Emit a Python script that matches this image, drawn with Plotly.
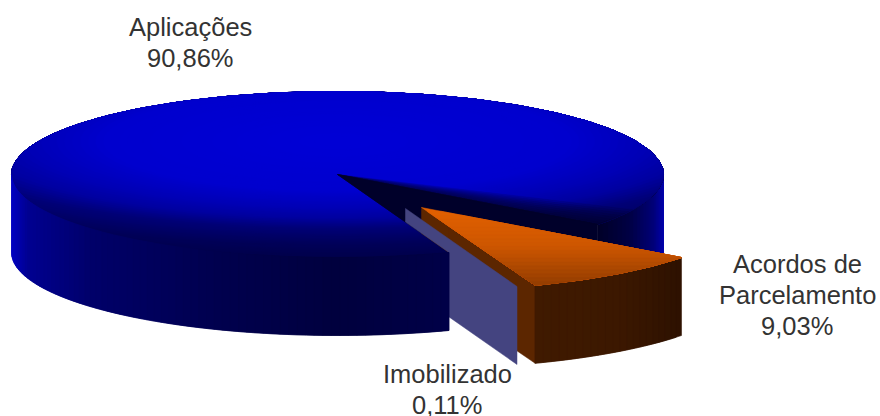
import math
import plotly.graph_objects as go

# --- data ---
label_lines = [["Aplicações"], ["Acordos de", "Parcelamento"], ["Imobilizado"]]
values = [90.86, 9.03, 0.11]

# --- pie geometry (screen pixels on hidden axes) ---
CX, CY, RX, RY, DEPTH = 337.5, 174.5, 326, 83, 78
BLUE_END = 70.0
EXPLODE_ORANGE = (84, 33)
EXPLODE_GREY = (68, 34)
FONT = "Liberation Sans"

total = sum(values)
span = [v / total * 360 for v in values]
blue_start = BLUE_END + span[0] - 360
orange_end = blue_start + span[1]
grey_end = orange_end + span[2]

fig = go.Figure()


def poly(pts, color):
    fig.add_trace(go.Scatter(
        x=[p[0] for p in pts] + [pts[0][0]], y=[p[1] for p in pts] + [pts[0][1]],
        mode="lines", fill="toself", fillcolor=color,
        line=dict(color=color, width=0.5), hoverinfo="skip", showlegend=False))


def rim(t, off=(0, 0)):
    a = math.radians(t)
    return (CX + off[0] + RX * math.cos(a), CY + off[1] + RY * math.sin(a))


def down(p):
    return (p[0], p[1] + DEPTH)


def lerp_color(stops, v):
    if v <= stops[0][0]:
        s = stops[0][1]
    elif v >= stops[-1][0]:
        s = stops[-1][1]
    else:
        for (a, ca), (b, cb) in zip(stops, stops[1:]):
            if a <= v <= b:
                f = (v - a) / (b - a)
                s = tuple(ca[i] + (cb[i] - ca[i]) * f for i in range(3))
                break
    return "rgb(%d,%d,%d)" % tuple(round(c) for c in s)


def clip(pts, keep):
    """Half-plane clip: keep(p) returns a signed value, >=0 is inside."""
    out = []
    for i, p in enumerate(pts):
        q = pts[(i + 1) % len(pts)]
        kp, kq = keep(p), keep(q)
        if kp >= 0:
            out.append(p)
        if (kp >= 0) != (kq >= 0):
            f = kp / (kp - kq)
            out.append((p[0] + (q[0] - p[0]) * f, p[1] + (q[1] - p[1]) * f))
    return out


def wall(t0, t1, off, stops, step=1.5):
    """Side wall as overlapping strips, painted from t0 towards t1."""
    n = max(1, int(abs(t1 - t0) / step))
    d = (t1 - t0) / n
    for i in range(n):
        a = t0 + d * i
        b = t0 + d * min(i + 2, n)
        u = math.cos(math.radians(a + d / 2))
        arc = [rim(a + (b - a) * k / 4, off) for k in range(5)]
        poly(arc + [down(p) for p in reversed(arc)], lerp_color(stops, u))


# 1. right outer wall of the blue slice
RIGHT_WALL = [(0.80, (0, 0, 40)), (0.90, (0, 0, 70)), (0.97, (0, 0, 120)), (1.0, (0, 0, 170))]
wall(blue_start, 0, (0, 0), RIGHT_WALL)

# 2. whole top ellipse with soft shading
SHIFT, KX = 0.40, 0.70
TOP_SHADE = [(0.0, (0, 0, 214)), (0.6, (0, 0, 206)), (0.8, (0, 0, 182)),
             (0.93, (0, 0, 160)), (1.06, (0, 0, 118)), (1.25, (0, 0, 88)), (1.45, (0, 0, 72))]
R = 1.5
while R > 0.05:
    pts = []
    for k in range(180):
        th = math.radians(k * 2)
        ux, uy = math.cos(th), math.sin(th)
        b = -SHIFT * uy
        dist = -b + math.sqrt(b * b - (SHIFT * SHIFT - 1))
        r = min(R / math.sqrt(KX * ux * ux + uy * uy), dist)
        pts.append((CX + RX * r * ux, CY + RY * (-SHIFT + r * uy)))
    poly(pts, lerp_color(TOP_SHADE, R))
    R -= 0.02

# darkening of the top face as it nears the cut
c0, r_start, r_end = (CX, CY), rim(blue_start), rim(BLUE_END)
for i in range(8):
    t_a = blue_start - 1.5 * (8 - i)
    arc = [rim(t_a + (blue_start - t_a) * k / 10) for k in range(11)]
    poly([c0] + arc, "rgba(0,0,40,0.13)")


# 3. inner cut wall of the blue slice, seen through the gap
def right_of_end_ray(p):
    return -(r_end[0] - c0[0]) * (p[1] - c0[1]) + (r_end[1] - c0[1]) * (p[0] - c0[0])


def visible_parts(shape):
    """Split a shape at the blue slice's front edge and drop what the slice hides."""
    split = r_end[0]
    return (clip(clip(shape, lambda p: split - p[0]), right_of_end_ray),
            clip(shape, lambda p: p[0] - split))


INNER = "rgb(0,0,42)"
poly([c0] + [rim(blue_start + (BLUE_END - blue_start) * i / 30) for i in range(31)], INNER)
poly(clip([c0, r_start, down(r_start), down(c0)], right_of_end_ray), INNER)

# 4. exploded orange slice
oc = (CX + EXPLODE_ORANGE[0], CY + EXPLODE_ORANGE[1])
o_end = rim(orange_end, EXPLODE_ORANGE)
for part in visible_parts([oc, o_end, down(o_end), down(oc)]):
    if len(part) > 2:
        poly(part, "rgb(92,38,0)")
ORANGE_WALL = [(0.33, (64, 26, 0)), (0.60, (60, 24, 0)), (0.80, (45, 17, 0))]
wall(blue_start, orange_end, EXPLODE_ORANGE, ORANGE_WALL)
o_pts = [oc] + [rim(blue_start + (orange_end - blue_start) * i / 30, EXPLODE_ORANGE) for i in range(31)]
ORANGE_TOP = [(0.0, (226, 96, 0)), (0.5, (205, 86, 0)), (1.0, (150, 62, 0))]
ymax = max(p[1] for p in o_pts)
for i in range(20):
    y0 = oc[1] + (ymax - oc[1]) * i / 20
    part = clip(o_pts, lambda p: p[1] - y0)
    if len(part) > 2:
        poly(part, lerp_color(ORANGE_TOP, i / 19))

# 5. thin grey-blue slice: only its cut wall shows
gc = (CX + EXPLODE_GREY[0], CY + EXPLODE_GREY[1])
g_end = rim(grey_end, EXPLODE_GREY)
for part in visible_parts([gc, g_end, down(g_end), down(gc)]):
    if len(part) > 2:
        poly(part, "rgb(68,68,128)")

# 6. front wall of the blue slice
FRONT_WALL = [(-1.0, (0, 0, 195)), (-0.95, (0, 0, 145)), (-0.75, (0, 0, 105)),
              (-0.4, (0, 0, 80)), (0.0, (0, 0, 62)), (0.35, (0, 0, 72))]
wall(180, BLUE_END, (0, 0), FRONT_WALL)

# --- labels (one annotation per line, so line spacing matches) ---
label_x = [190, 797, 447]
label_y = [27, 264, 374]
LINE_H = 31
for lines, v, x, y in zip(label_lines, values, label_x, label_y):
    texts = lines + [f"{v:.2f}".replace(".", ",") + "%"]
    for i, t in enumerate(texts):
        fig.add_annotation(
            x=x, y=y + i * LINE_H, xref="x", yref="y", showarrow=False, align="center",
            text=t, font=dict(family=FONT, size=25.5, color="#333333"))

fig.update_layout(
    width=880, height=416, margin=dict(l=0, r=0, t=0, b=0),
    paper_bgcolor="white", plot_bgcolor="white", showlegend=False,
    xaxis=dict(range=[0, 880], visible=False, fixedrange=True),
    yaxis=dict(range=[416, 0], visible=False, fixedrange=True))

fig.write_html("out.html", config=dict(displayModeBar=False),
               post_script="document.body.style.margin='0';")
